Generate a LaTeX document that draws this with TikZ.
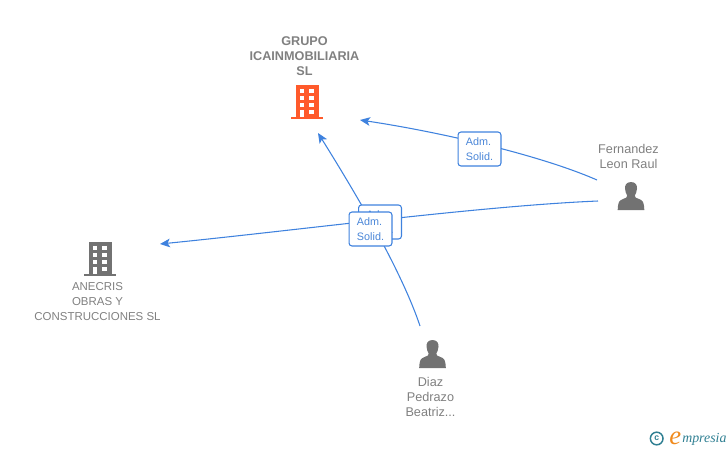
\documentclass[tikz,border=0pt]{standalone}
\usepackage{fontspec}
\setmainfont{Liberation Sans}
\newfontfamily\logofont{Liberation Serif}
\usetikzlibrary{arrows.meta}
\definecolor{linkblue}{HTML}{3F82DE}
\definecolor{labelblue}{HTML}{4A86D8}
\definecolor{txtgrey}{HTML}{808080}
\definecolor{icongrey}{HTML}{727272}
\definecolor{iconorange}{HTML}{FF5A2B}
\definecolor{logoteal}{HTML}{2F7F92}
\definecolor{logoorange}{HTML}{F08A1D}
\tikzset{
  x=0.75pt,y=-0.75pt,
  link/.style={draw=linkblue,line width=0.8pt,-{Stealth[length=7.5pt,width=6.5pt,inset=1.8pt]}},
  rolebox/.style={draw=linkblue,line width=0.8pt,fill=white,rounded corners=2.2pt,minimum width=32.2pt,minimum height=25.5pt,inner sep=0pt,align=left,text=labelblue,font=\fontsize{8.1}{11.25}\selectfont},
  cap title/.style={align=center,text=txtgrey,font=\bfseries\fontsize{9.5}{11.25}\selectfont},
  cap corp/.style={align=center,text=txtgrey,font=\fontsize{8.6}{11.25}\selectfont},
  cap person/.style={align=center,text=txtgrey,font=\fontsize{9.5}{11.25}\selectfont},
  pics/building/.style={code={
    \fill[#1] (-11.5,-16) rectangle (11.5,16);
    \fill[#1] (-16,15.5) rectangle (16,18.2);
    \foreach \yy in {-12.5,-5.5,1.5}{
      \fill[white] (-7.5,\yy) rectangle (-3,\yy+4.3);
      \fill[white] (2,\yy) rectangle (6.5,\yy+4.3);
    }
    \fill[white] (-7.5,8.5) rectangle (-3,15.5);
    \fill[white] (2,8.5) rectangle (6.5,12.8);
  }},
  pics/person/.style={code={
    \fill[icongrey] (0,-15.5) .. controls (-4.8,-15.5) and (-6.2,-12) .. (-6,-9)
      .. controls (-5.8,-6) and (-4.8,-3.5) .. (-3.8,-2)
      .. controls (-3.6,0) and (-5,0.5) .. (-8,1.5)
      .. controls (-12,3) and (-13,4.5) .. (-13.3,12.5)
      -- (13.3,12.5)
      .. controls (13,4.5) and (12,3) .. (8,1.5)
      .. controls (5,0.5) and (3.6,0) .. (3.8,-2)
      .. controls (4.8,-3.5) and (5.8,-6) .. (6,-9)
      .. controls (6.2,-12) and (4.8,-15.5) .. (0,-15.5) -- cycle;
  }}
}
\begin{document}
\begin{tikzpicture}
\useasboundingbox (0,0) rectangle (728,450);
% icons
\pic at (307,101) {building=iconorange};
\pic at (100,258) {building=icongrey};
\pic at (631,197.5) {person};
\pic at (432.5,355.5) {person};
% captions
\node[cap title] (grupo) at (304.5,56) {GRUPO\\ICAINMOBILIARIA\\SL};
\node[cap corp] (anecris) at (97.5,302) {ANECRIS\\OBRAS Y\\CONSTRUCCIONES SL};
\node[cap person] (fernandez) at (628.5,156.5) {Fernandez\\Leon Raul};
\node[cap person] (diaz) at (430.5,397) {Diaz\\Pedrazo\\Beatriz...};
% connector ends
\coordinate (fernA) at (597,180);
\coordinate (fernB) at (598,201);
\coordinate (diazA) at (420,326);
\coordinate (grupoE) at (360,120);
\coordinate (grupoS) at (318,133);
\coordinate (anecrisE) at (160,244);
% connectors
\draw[link] (fernA) .. controls (540,155) and (440,132) .. (grupoE);
\draw[link] (fernB) .. controls (480,206) and (300,230) .. (anecrisE);
\draw[link] (diazA) .. controls (408,290) and (380,232) .. (grupoS);
% role labels
\node[rolebox] (role1) at (479.5,149) {Adm.\\Solid.};
\node[rolebox] (role2) at (380,222) {Adm.\\Solid.};
\node[rolebox] (role3) at (370.5,229) {Adm.\\Solid.};
% logo
\node[draw=logoteal,line width=1.1pt,circle,inner sep=0pt,minimum size=9.5pt,text=logoteal,font=\bfseries\fontsize{6.5}{7}\selectfont] (copyr) at (656.7,438.5) {c};
\node[anchor=base east,inner sep=0pt,text=logoorange,font=\logofont\itshape\fontsize{20}{20}\selectfont] (logoe) at (681.5,444.5) {e};
\node[anchor=base west,inner sep=0pt,text=logoteal,font=\logofont\itshape\fontsize{10.4}{11}\selectfont] (logotext) at (682,442.5) {mpresia};
\end{tikzpicture}
\end{document}
